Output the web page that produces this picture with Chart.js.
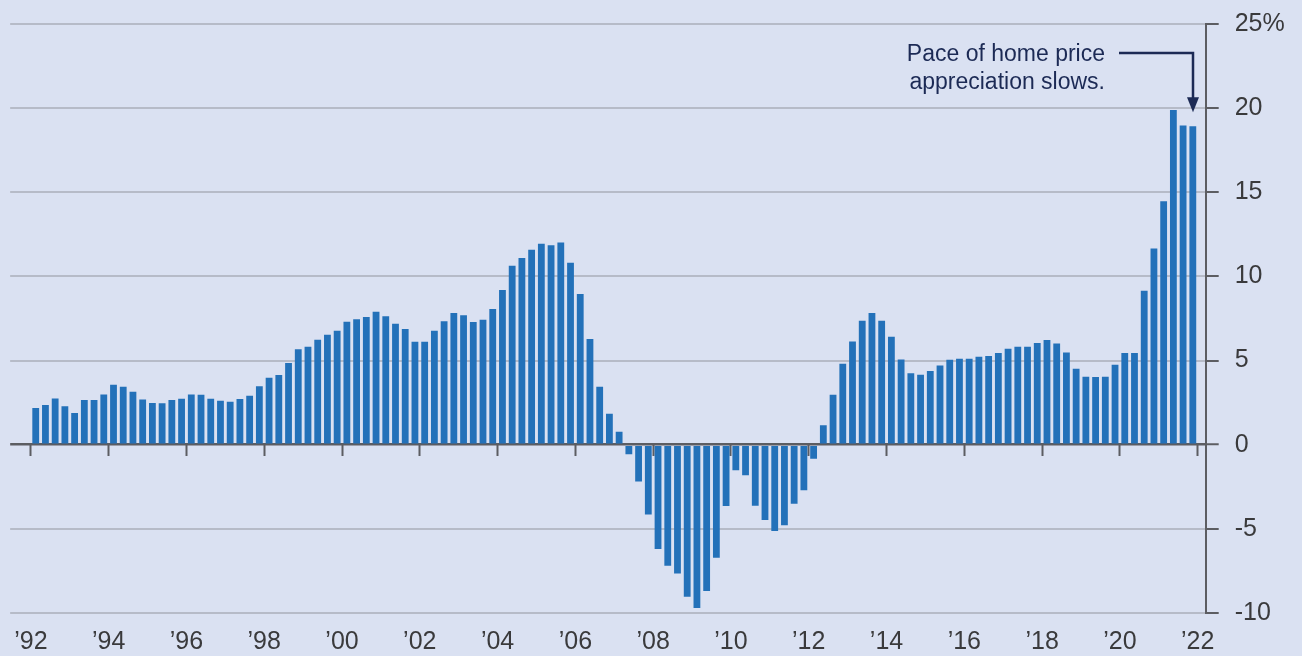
<!DOCTYPE html>
<html>
<head>
<meta charset="utf-8">
<title>Home price growth</title>
<script src="https://cdn.jsdelivr.net/npm/chart.js@4.4.1/dist/chart.umd.min.js"></script>
<style>
  html, body { margin: 0; padding: 0; background: #dae1f2; }
  #wrap { width: 1302px; height: 656px; }
</style>
</head>
<body>
<div id="wrap"><canvas id="hpi-chart" width="1302" height="656"></canvas></div>
<script>
// ============================================================
// DATA — year-over-year home price growth, quarterly, %
// ============================================================
const FIRST_YEAR = 1992;

const growth = [
  2.18, 2.36, 2.75, 2.28, 1.88, 2.65, 2.65, 2.99,          // '92-'93
  3.57, 3.45, 3.15, 2.69, 2.48, 2.46, 2.65, 2.73,          // '94-'95
  2.99, 2.97, 2.73, 2.61, 2.55, 2.71, 2.91, 3.47,          // '96-'97
  3.98, 4.14, 4.85, 5.68, 5.82, 6.24, 6.54, 6.77,          // '98-'99
  7.31, 7.45, 7.59, 7.90, 7.63, 7.19, 6.87, 6.12,          // '00-'01
  6.12, 6.77, 7.33, 7.82, 7.70, 7.29, 7.43, 8.06,          // '02-'03
  9.19, 10.64, 11.09, 11.59, 11.94, 11.86, 12.02, 10.81,   // '04-'05
  8.95, 6.28, 3.45, 1.84, 0.77, -0.57, -2.18, -4.14,       // '06-'07
  -6.20, -7.19, -7.66, -9.03, -9.70, -8.69, -6.71, -3.64,  // '08-'09
  -1.52, -1.82, -3.62, -4.48, -5.13, -4.79, -3.51, -2.71,  // '10-'11
  -0.83, 1.15, 2.97, 4.81, 6.14, 7.37, 7.82, 7.37,         // '12-'13
  6.42, 5.07, 4.24, 4.16, 4.38, 4.71, 5.05, 5.11,          // '14-'15
  5.11, 5.23, 5.27, 5.45, 5.70, 5.82, 5.82, 6.04,          // '16-'17
  6.22, 6.02, 5.48, 4.52, 4.04, 4.02, 4.04, 4.75,          // '18-'19
  5.45, 5.45, 9.15, 11.66, 14.46, 19.89, 18.97, 18.93,     // '20-'21
];

const tickYears = [1992, 1994, 1996, 1998, 2000, 2002, 2004, 2006,
                   2008, 2010, 2012, 2014, 2016, 2018, 2020, 2022];
const noteLines = ['Pace of home price', 'appreciation slows.'];

// each bar sits at the middle of its quarter
const quarterX = growth.map((_, i) => FIRST_YEAR + Math.floor(i / 4) + ((i % 4) + 0.5) / 4);
const points = growth.map((v, i) => ({ x: quarterX[i], y: v }));

// ---- look ----
const BAR = '#2371b9';
const GRID = '#b6bbc8';
const AXIS = '#5c5d62';
const LABEL = '#3a3a3c';
const NAVY = '#1c2a55';
const FONT = '"Liberation Sans", Arial, Helvetica, sans-serif';
const X_MIN = 1991.468, X_MAX = 2022.206;
const NOTE_ELBOW = 23.3, NOTE_TIP = 19.75;

const yearTicks = s => { s.ticks = tickYears.map(v => ({ value: v })); };

// annotation: text + elbow arrow down onto the latest bar
const noteArrow = {
  id: 'noteArrow',
  afterDatasetsDraw(chart) {
    const { ctx, scales: { x, y } } = chart;
    const ax = Math.round(x.getPixelForValue(quarterX[quarterX.length - 1]));
    const top = Math.round(y.getPixelForValue(NOTE_ELBOW));
    const tip = y.getPixelForValue(NOTE_TIP);
    const startX = ax - 74;

    ctx.save();
    ctx.strokeStyle = NAVY;
    ctx.fillStyle = NAVY;
    ctx.lineWidth = 2.5;
    ctx.beginPath();
    ctx.moveTo(startX, top);
    ctx.lineTo(ax, top);
    ctx.lineTo(ax, tip - 12);
    ctx.stroke();

    ctx.beginPath();
    ctx.moveTo(ax - 6, tip - 15);
    ctx.lineTo(ax + 6, tip - 15);
    ctx.lineTo(ax, tip);
    ctx.closePath();
    ctx.fill();

    ctx.font = '23px ' + FONT;
    ctx.textAlign = 'right';
    ctx.textBaseline = 'alphabetic';
    noteLines.forEach((line, i) => ctx.fillText(line, startX - 14, top + 8 + i * 27.6));
    ctx.restore();
  },
};

new Chart(document.getElementById('hpi-chart'), {
  type: 'bar',
  data: {
    datasets: [{
      data: points,
      backgroundColor: BAR,
      borderWidth: 0,
      barPercentage: 0.7,
      categoryPercentage: 1,
      xAxisID: 'x',
    }],
  },
  options: {
    responsive: false,
    animation: false,
    devicePixelRatio: 1,
    layout: { padding: { top: 24, left: 10, right: 0, bottom: 0 } },
    plugins: { legend: { display: false }, tooltip: { enabled: false } },
    scales: {
      x: {
        type: 'linear', position: 'bottom', min: X_MIN, max: X_MAX, offset: false,
        afterBuildTicks: yearTicks,
        afterFit: s => { s.height = 43; },
        grid: { display: false, drawTicks: false, offset: false },
        border: { display: false },
        ticks: {
          autoSkip: false, maxRotation: 0, padding: 14, color: LABEL,
          font: { family: FONT, size: 25 },
          callback: v => '\u2019' + String(v).slice(2),
        },
      },
      xt: {
        type: 'linear', position: { y: 0 }, min: X_MIN, max: X_MAX, offset: false,
        afterBuildTicks: yearTicks,
        afterFit: s => { s.height = 0; },
        grid: { drawOnChartArea: false, drawTicks: true, tickLength: 11, tickColor: AXIS, tickWidth: 2, offset: false },
        border: { display: false },
        ticks: { display: false },
      },
      y: {
        position: 'right', min: -10, max: 25,
        // fixed width; labels may hang past the plot's top and bottom
        afterFit: s => { s.width = 96.3; s.paddingTop = 0; s.paddingBottom = 0; },
        grid: {
          color: c => (c.tick && c.tick.value === 0 ? AXIS : GRID),
          lineWidth: c => (c.tick && c.tick.value === 0 ? 2.5 : 2),
          tickColor: AXIS, tickLength: 13, tickWidth: 2,
        },
        border: { color: AXIS, width: 2 },
        ticks: {
          stepSize: 5, padding: 16, color: LABEL,
          font: { family: FONT, size: 25 },
          callback: v => (v === 25 ? '25%' : String(v)),
        },
      },
    },
  },
  plugins: [noteArrow],
});
</script>
</body>
</html>
